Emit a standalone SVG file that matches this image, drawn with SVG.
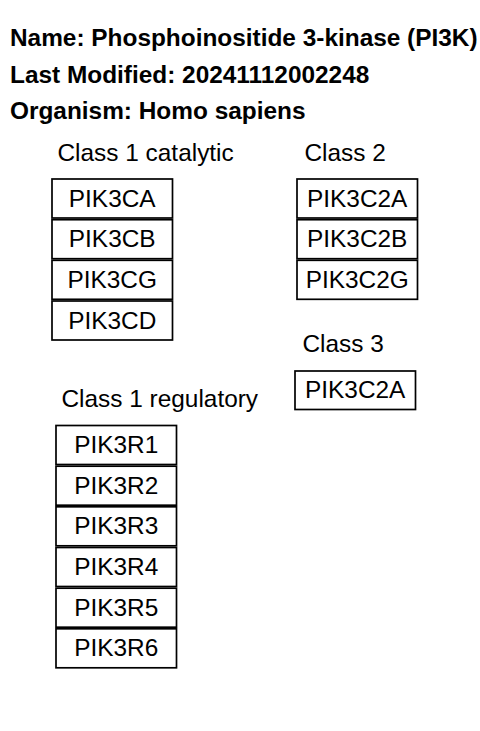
<svg xmlns="http://www.w3.org/2000/svg" width="480" height="731" viewBox="0 0 480 731">
<style>
.t{font-family:"Liberation Sans",Arial,sans-serif;font-weight:bold;font-size:24.4px;fill:#000}
.lbl{font-family:"Liberation Sans",Arial,sans-serif;font-size:24.4px;fill:#000}
.box{fill:#fff;stroke:#000;stroke-width:1.7}
.bt{font-family:"Liberation Sans",Arial,sans-serif;font-size:24.4px;fill:#000;text-anchor:middle}
</style>
<rect width="480" height="731" fill="#fff"/>
<g id="header">
<text class="t" x="10" y="46">Name: Phosphoinositide 3-kinase (PI3K)</text>
<text class="t" x="10" y="83">Last Modified: 20241112002248</text>
<text class="t" x="10" y="119">Organism: Homo sapiens</text>
</g>
<g id="class1cat">
<text class="lbl" x="57.5" y="161">Class 1 catalytic</text>
<g id="PIK3CA"><rect class="box" x="52" y="179" width="120.5" height="39"/><text class="bt" x="112.2" y="206.5">PIK3CA</text></g>
<g id="PIK3CB"><rect class="box" x="52" y="219.7" width="120.5" height="39"/><text class="bt" x="112.2" y="247.2">PIK3CB</text></g>
<g id="PIK3CG"><rect class="box" x="52" y="260.3" width="120.5" height="39"/><text class="bt" x="112.2" y="287.8">PIK3CG</text></g>
<g id="PIK3CD"><rect class="box" x="52" y="301" width="120.5" height="39"/><text class="bt" x="112.2" y="328.5">PIK3CD</text></g>
</g>
<g id="class2">
<text class="lbl" x="304.5" y="161">Class 2</text>
<g id="PIK3C2A"><rect class="box" x="297" y="179" width="120.5" height="39"/><text class="bt" x="357.2" y="206.5">PIK3C2A</text></g>
<g id="PIK3C2B"><rect class="box" x="297" y="219.7" width="120.5" height="39"/><text class="bt" x="357.2" y="247.2">PIK3C2B</text></g>
<g id="PIK3C2G"><rect class="box" x="297" y="260.3" width="120.5" height="39"/><text class="bt" x="357.2" y="287.8">PIK3C2G</text></g>
</g>
<g id="class3">
<text class="lbl" x="302.5" y="352">Class 3</text>
<g id="PIK3C2A-3"><rect class="box" x="295" y="371" width="120.5" height="38.5"/><text class="bt" x="355.2" y="398">PIK3C2A</text></g>
</g>
<g id="class1reg">
<text class="lbl" x="61.5" y="407">Class 1 regulatory</text>
<g id="PIK3R1"><rect class="box" x="56" y="425.5" width="120.5" height="39"/><text class="bt" x="116.2" y="453">PIK3R1</text></g>
<g id="PIK3R2"><rect class="box" x="56" y="466.2" width="120.5" height="39"/><text class="bt" x="116.2" y="493.7">PIK3R2</text></g>
<g id="PIK3R3"><rect class="box" x="56" y="506.8" width="120.5" height="39"/><text class="bt" x="116.2" y="534.3">PIK3R3</text></g>
<g id="PIK3R4"><rect class="box" x="56" y="547.5" width="120.5" height="39"/><text class="bt" x="116.2" y="575">PIK3R4</text></g>
<g id="PIK3R5"><rect class="box" x="56" y="588.2" width="120.5" height="39"/><text class="bt" x="116.2" y="615.7">PIK3R5</text></g>
<g id="PIK3R6"><rect class="box" x="56" y="628.8" width="120.5" height="39"/><text class="bt" x="116.2" y="656.3">PIK3R6</text></g>
</g>
<g id="connectors"/>
</svg>
